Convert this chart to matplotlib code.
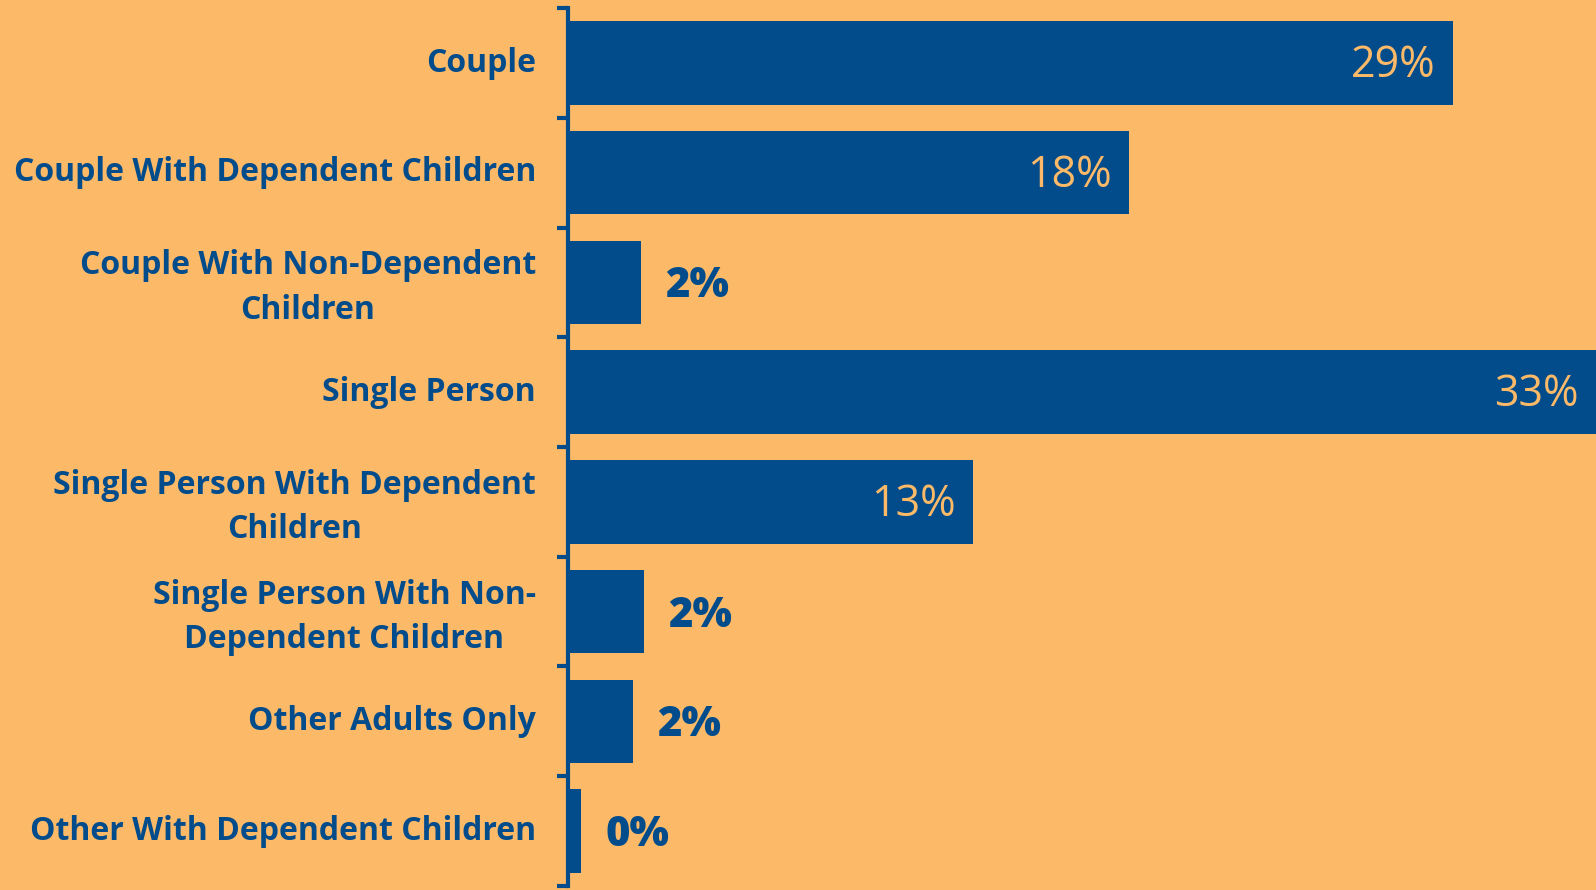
from matplotlib import pyplot as plt
from matplotlib import transforms

# household composition shares (%)
categories = [
    "Couple",
    "Couple With Dependent Children",
    "Couple With Non-Dependent\nChildren",
    "Single Person",
    "Single Person With Dependent\nChildren",
    "Single Person With Non-\nDependent Children",
    "Other Adults Only",
    "Other With Dependent Children",
]
values = [28.4, 18.0, 2.35, 33.0, 13.0, 2.45, 2.1, 0.42]
value_labels = ["29%", "18%", "2%", "33%", "13%", "2%", "2%", "0%"]

bg = "#FCBA69"
blue = "#034C8B"

plt.rcParams['font.family'] = ['Open Sans', 'DejaVu Sans']

fig = plt.figure(figsize=(15.96, 8.90), dpi=100, facecolor=bg)
ax = fig.add_axes([568 / 1596, 4 / 874, 1 - 568 / 1596, (870 - 8) / 874])
ax.set_facecolor(bg)

pos = list(range(len(categories)))
ax.barh(pos, values, height=0.76, color=blue, zorder=2)

ax.set_xlim(0, max(values))
ax.set_ylim(len(categories) - 0.5, -0.5)

# labels sit between the tick marks, ticks mark category boundaries
ax.set_yticks(pos)
ax.set_yticklabels(categories, fontsize=23, fontweight='bold', color=blue,
                   ha='right', multialignment='center', linespacing=1.45)
ax.set_yticks([p - 0.5 for p in range(len(categories) + 1)], minor=True)
ax.tick_params(axis='y', which='major', length=0, pad=23)
ax.tick_params(axis='y', which='minor', length=8, width=3, color=blue)
ax.set_xticks([])

# nudge the category labels up a little
nudge = transforms.ScaledTranslation(0, 4 / 100, fig.dpi_scale_trans)
for t in ax.get_yticklabels():
    t.set_transform(t.get_transform() + nudge)

for s in ['top', 'right', 'bottom']:
    ax.spines[s].set_visible(False)
ax.spines['left'].set_color(blue)
ax.spines['left'].set_linewidth(3)

inside = transforms.offset_copy(ax.transData, fig=fig, x=-17, y=-3, units='dots')
outside = transforms.offset_copy(ax.transData, fig=fig, x=24, y=-4, units='dots')
for p, v, lab in zip(pos, values, value_labels):
    if v > 5:
        ax.text(v, p, lab, transform=inside, ha='right', va='center',
                fontsize=31, color=bg, zorder=3)
    else:
        ax.text(v, p, lab, transform=outside, ha='left', va='center',
                fontsize=30, fontweight='heavy', color=blue, zorder=3)

plt.savefig('out.png', dpi=100, facecolor=bg)
